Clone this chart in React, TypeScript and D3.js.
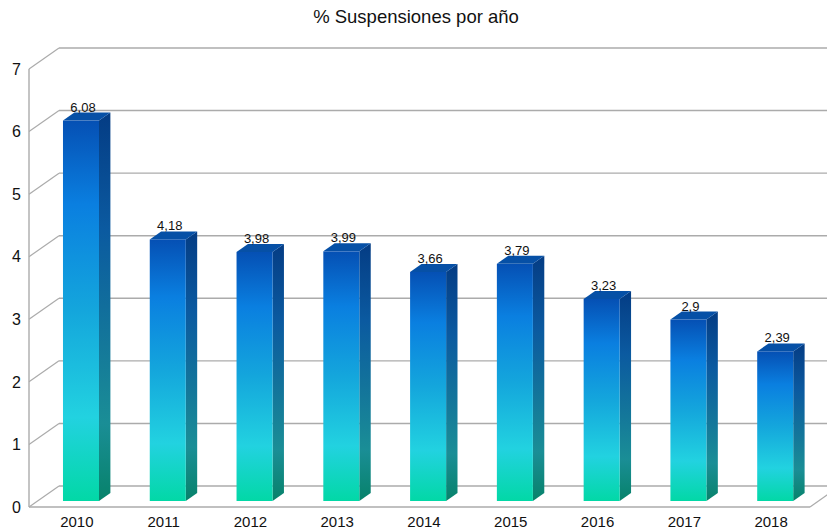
import React from "react";
import * as d3 from "d3";

const years = ["2010", "2011", "2012", "2013", "2014", "2015", "2016", "2017", "2018"];
const values = [6.08, 4.18, 3.98, 3.99, 3.66, 3.79, 3.23, 2.9, 2.39];
const valueLabels = ["6,08", "4,18", "3,98", "3,99", "3,66", "3,79", "3,23", "2,9", "2,39"];
const yTicks = [0, 1, 2, 3, 4, 5, 6, 7];
const title = "% Suspensiones por año";

const W = 827;
const H = 532;
const FONT = "'Liberation Sans', Arial, Helvetica, sans-serif";

export default function App() {
  const x = d3.scaleBand<string>().domain(years).range([29, 810]).paddingInner(0).paddingOuter(0);
  const y = d3.scaleLinear().domain([0, 7]).range([507, 69]);
  // depth offsets
  const DX = 30, DY = -21; // back wall
  const fdx = 8.6, fdy = -6; // bar front
  const bdx = 20, bdy = -14; // bar back
  const bw = x.bandwidth() * 0.415;
  const grid = "#ababab";

  return (
    <svg width={W} height={H} style={{ position: "absolute", left: 0, top: 0, background: "#fff" }}>
      <defs>
        <linearGradient id="front" x1="0" y1="0" x2="0" y2="1">
          <stop offset="0" stopColor="#0550b4" />
          <stop offset="0.22" stopColor="#0a7fe0" />
          <stop offset="0.5" stopColor="#14a6dc" />
          <stop offset="0.78" stopColor="#22d2e0" />
          <stop offset="1" stopColor="#02d8a6" />
        </linearGradient>
        <linearGradient id="side" x1="0" y1="0" x2="0" y2="1">
          <stop offset="0" stopColor="#043c84" />
          <stop offset="0.3" stopColor="#0b5aa0" />
          <stop offset="0.6" stopColor="#14789a" />
          <stop offset="0.8" stopColor="#1a8e96" />
          <stop offset="1" stopColor="#07826a" />
        </linearGradient>
      </defs>
      <text x={416} y={23} textAnchor="middle" fontFamily={FONT} fontSize={18.5} fill="#111">{title}</text>

      {/* back wall gridlines */}
      {yTicks.map((t) => (
        <g key={"g" + t}>
          <line x1={29 + DX} x2={W} y1={y(t) + DY} y2={y(t) + DY} stroke={grid} strokeWidth={1.4} />
          <line x1={29} y1={y(t)} x2={29 + DX} y2={y(t) + DY} stroke={grid} strokeWidth={1.2} />
          <text x={21} y={y(t)} dy="0.36em" textAnchor="end" fontFamily={FONT} fontSize={16} fill="#111">{t}</text>
        </g>
      ))}
      {/* front axis and floor */}
      <line x1={29} x2={29} y1={y(7)} y2={y(0)} stroke={grid} strokeWidth={1.4} />
      <line x1={29} x2={810} y1={y(0)} y2={y(0)} stroke={grid} strokeWidth={1.4} />
      <line x1={810} y1={y(0)} x2={810 + DX} y2={y(0) + DY} stroke={grid} strokeWidth={1.2} />

      {years.map((yr, i) => {
        const v = values[i];
        const x0 = (x(yr) as number) + (x.bandwidth() - bw) / 2;
        const fx = x0 + fdx;
        const ftop = y(v) + fdy;
        const fbot = y(0) + fdy;
        const ddx = bdx - fdx, ddy = bdy - fdy;
        const side = `M${fx + bw},${ftop} L${fx + bw + ddx},${ftop + ddy} L${fx + bw + ddx},${fbot + ddy} L${fx + bw},${fbot} Z`;
        const top = `M${fx},${ftop} L${fx + ddx},${ftop + ddy} L${fx + bw + ddx},${ftop + ddy} L${fx + bw},${ftop} Z`;
        return (
          <g key={yr}>
            <path d={side} fill="url(#side)" />
            <path d={top} fill="#0650a6" />
            <rect x={fx} y={ftop} width={bw} height={fbot - ftop} fill="url(#front)" />
            <text x={fx + bw / 2 + 2} y={ftop + ddy - 1} textAnchor="middle" fontFamily={FONT} fontSize={13} fill="#111">{valueLabels[i]}</text>
            <text x={(x(yr) as number) + x.bandwidth() / 2 + 4.5} y={527} textAnchor="middle" fontFamily={FONT} fontSize={15} fill="#111">{yr}</text>
          </g>
        );
      })}
    </svg>
  );
}
